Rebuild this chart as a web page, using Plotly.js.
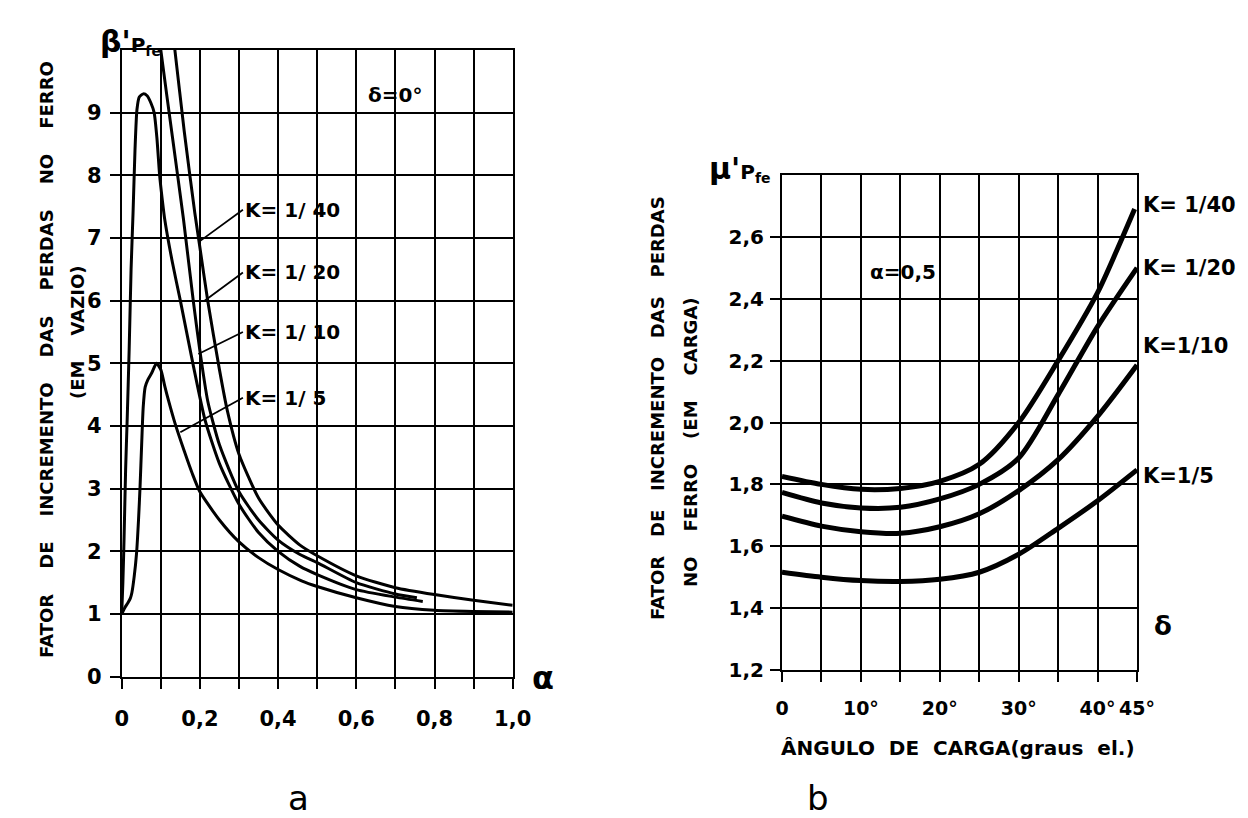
<!DOCTYPE html>
<html><head><meta charset="utf-8">
<script src="https://cdn.plot.ly/plotly-3.0.1.min.js"></script>
<style>html,body{margin:0;padding:0;background:#fff}#c{width:1248px;height:818px}</style>
</head><body><div id="c"></div>
<script>
// ---------- data : panel a (alpha vs beta'Pfe, delta = 0) ----------
const alphaK5  = [0,0.008,0.016,0.022,0.026,0.032,0.038,0.043,0.047,0.051,0.055,0.06,0.067,0.077,0.089,0.1,0.11,0.12,0.136,0.16,0.18,0.2,0.25,0.3,0.35,0.4,0.46,0.5,0.6,0.7,0.8,0.9,1.0];
const betaK5   = [1.0,1.1,1.18,1.25,1.34,1.6,1.97,2.5,3.04,3.7,4.3,4.62,4.74,4.85,5.0,4.9,4.64,4.4,4.05,3.6,3.25,2.95,2.5,2.15,1.9,1.71,1.53,1.44,1.26,1.12,1.06,1.04,1.03];
const alphaK10 = [0,0.003,0.006,0.01,0.014,0.019,0.024,0.029,0.034,0.039,0.045,0.055,0.065,0.075,0.083,0.09,0.097,0.104,0.11,0.13,0.15,0.182,0.213,0.25,0.3,0.35,0.4,0.456,0.5,0.6,0.7,0.77];
const betaK10  = [1.0,1.5,2.2,3.3,4.1,5.2,6.5,7.4,8.4,9.05,9.25,9.3,9.27,9.15,9.0,8.6,8.0,7.6,7.3,6.6,6.0,5.0,4.1,3.4,2.75,2.3,2.0,1.76,1.63,1.39,1.27,1.2];
const alphaK20 = [0.095,0.1,0.13,0.158,0.183,0.2,0.22,0.25,0.3,0.35,0.4,0.456,0.5,0.6,0.7,0.755];
const betaK20  = [10.3,10.0,8.6,7.3,6.0,5.2,4.4,3.7,2.95,2.5,2.18,1.95,1.82,1.5,1.32,1.26];
const alphaK40 = [0.13,0.136,0.16,0.187,0.2,0.22,0.25,0.27,0.3,0.35,0.4,0.456,0.5,0.6,0.7,0.8,0.9,1.0];
const betaK40  = [10.3,10.0,8.7,7.4,6.85,6.0,4.9,4.25,3.55,2.85,2.42,2.1,1.93,1.61,1.42,1.31,1.22,1.14];

// ---------- data : panel b (load angle vs mu'Pfe, alpha = 0,5) ----------
const angle    = [0,5,10,15,20,25,30,35,40,45];
const angleK40 = [0,5,10,15,20,25,30,35,40,42.5,44.7];
const muK40    = [1.826,1.80,1.784,1.787,1.81,1.865,2.0,2.2,2.42,2.56,2.69];
const muK20    = [1.774,1.74,1.724,1.726,1.753,1.80,1.885,2.09,2.31,2.50];
const muK10    = [1.697,1.665,1.647,1.642,1.663,1.705,1.78,1.88,2.02,2.186];
const muK5     = [1.516,1.50,1.489,1.486,1.493,1.516,1.574,1.658,1.747,1.847];

// ---------- tick labels ----------
const xTicksA = [0,0.2,0.4,0.6,0.8,1.0];
const xLabelsA = ['0','0,2','0,4','0,6','0,8','1,0'];
const yTicksA = [0,1,2,3,4,5,6,7,8,9];
const yLabelsA = ['0','1','2','3','4','5','6','7','8','9'];
const xTicksB = [0,10,20,30,40,45];
const xLabelsB = ['0','10°','20°','30°','40°','45°'];
const yTicksB = [1.2,1.4,1.6,1.8,2.0,2.2,2.4,2.6];
const yLabelsB = ['1,2','1,4','1,6','1,8','2,0','2,2','2,4','2,6'];

const W = 1248, H = 818;
const PX = x => x / W, PY = y => 1 - y / H;
const FONT = 'DejaVu Sans';
const bold = (s) => ({family: FONT, size: s, color: '#000', weight: 'bold'});

const lineA = {color: '#000', width: 3, shape: 'spline', smoothing: 0.6};
const lineB = {color: '#000', width: 5, shape: 'spline', smoothing: 0.8};

const traces = [
  {x: alphaK40, y: betaK40, mode: 'lines', line: lineA, xaxis: 'x', yaxis: 'y', name: 'K=1/40'},
  {x: alphaK20, y: betaK20, mode: 'lines', line: lineA, xaxis: 'x', yaxis: 'y', name: 'K=1/20'},
  {x: alphaK10, y: betaK10, mode: 'lines', line: lineA, xaxis: 'x', yaxis: 'y', name: 'K=1/10'},
  {x: alphaK5,  y: betaK5,  mode: 'lines', line: lineA, xaxis: 'x', yaxis: 'y', name: 'K=1/5'},
  {x: angleK40, y: muK40, mode: 'lines', line: lineB, xaxis: 'x2', yaxis: 'y2', name: 'K=1/40'},
  {x: angle,    y: muK20, mode: 'lines', line: lineB, xaxis: 'x2', yaxis: 'y2', name: 'K=1/20'},
  {x: angle,    y: muK10, mode: 'lines', line: lineB, xaxis: 'x2', yaxis: 'y2', name: 'K=1/10'},
  {x: angle,    y: muK5,  mode: 'lines', line: lineB, xaxis: 'x2', yaxis: 'y2', name: 'K=1/5'}
];

const axCommon = {
  showgrid: true, gridcolor: '#000', gridwidth: 2,
  showline: true, linecolor: '#000', linewidth: 2, mirror: true,
  zeroline: false, ticks: 'outside', ticklen: 10, tickwidth: 2, tickcolor: '#000',
  tickmode: 'array', tickangle: 0, fixedrange: true
};
const minorGrid = (d) => ({dtick: d, tick0: 0, showgrid: true, gridcolor: '#000', gridwidth: 2,
  ticks: 'outside', ticklen: 10, tickwidth: 2, tickcolor: '#000'});

const layout = {
  width: W, height: H, margin: {l: 0, r: 0, t: 0, b: 0},
  paper_bgcolor: '#fff', plot_bgcolor: '#fff', showlegend: false,
  xaxis: Object.assign({}, axCommon, {domain: [PX(121.7), PX(512.7)], range: [0, 1.0],
    tickvals: xTicksA, ticktext: xLabelsA, tickfont: bold(21), ticklabelstandoff: 12, anchor: 'y',
    minor: minorGrid(0.1)}),
  yaxis: Object.assign({}, axCommon, {domain: [PY(676.7), PY(50)], range: [0, 10],
    tickvals: yTicksA, ticktext: yLabelsA, tickfont: bold(21), ticklabelstandoff: 4, anchor: 'x'}),
  xaxis2: Object.assign({}, axCommon, {domain: [PX(782), PX(1137)], range: [0, 45],
    tickvals: xTicksB, ticktext: xLabelsB, tickfont: bold(19), ticklabelstandoff: 10, anchor: 'y2',
    minor: minorGrid(5)}),
  yaxis2: Object.assign({}, axCommon, {domain: [PY(670), PY(175)], range: [1.2, 2.8],
    tickvals: yTicksB, ticktext: yLabelsB, tickfont: bold(20), ticklabelstandoff: 2, anchor: 'x2'}),
  annotations: []
};

const A = layout.annotations;
const sp = n => '\u00a0'.repeat(n);
function txt(x, y, text, size, opts) {
  A.push(Object.assign({xref: 'paper', yref: 'paper', x: PX(x), y: PY(y), text: text,
    showarrow: false, font: bold(size), xanchor: 'center', yanchor: 'middle'}, opts || {}));
}
// y-axis titles panel a
txt(46, 360, ['FATOR','DE','INCREMENTO','DAS','PERDAS','NO','FERRO'].join(sp(4)), 18, {textangle: -90});
txt(77, 333, '(EM' + sp(4) + 'VAZIO)', 18, {textangle: -90});
// y-axis titles panel b
txt(657, 408, ['FATOR','DE','INCREMENTO','DAS','PERDAS'].join(sp(3)), 18, {textangle: -90});
txt(690, 442, ['NO','FERRO','(EM','CARGA)'].join(sp(4)), 18, {textangle: -90});
// axis symbols
txt(130, 42, "<span style='font-size:30px'>β'</span>P<sub>fe</sub>", 20);
txt(740, 168, "<span style='font-size:30px'>μ'</span>P<sub>fe</sub>", 20);
txt(543, 678, 'α', 32);
txt(1163, 626, 'δ', 26);
txt(395, 95, 'δ=0°', 20);
txt(903, 272, 'α=0,5', 20);
txt(958, 748, 'ÂNGULO' + sp(2) + 'DE' + sp(2) + 'CARGA(graus' + sp(2) + 'el.)', 20);
txt(298, 798, 'a', 34, {font: {family: FONT, size: 34, color: '#000'}});
txt(818, 798, 'b', 34, {font: {family: FONT, size: 34, color: '#000'}});
// K labels panel b
txt(1141, 205, 'K= 1/40', 21, {xanchor: 'left'});
txt(1141, 268, 'K= 1/20', 21, {xanchor: 'left'});
txt(1141, 346, 'K=1/10', 21, {xanchor: 'left'});
txt(1141, 476, 'K=1/5', 21, {xanchor: 'left'});
// K labels panel a with leader lines
const kLabelsA = [
  {t: 'K= 1/ 40', hx: 0.2,   hy: 6.95, tx: 0.31, ty: 7.45},
  {t: 'K= 1/ 20', hx: 0.212, hy: 6.0,  tx: 0.31, ty: 6.45},
  {t: 'K= 1/ 10', hx: 0.196, hy: 5.15, tx: 0.31, ty: 5.5},
  {t: 'K= 1/ 5',  hx: 0.15,  hy: 3.9,  tx: 0.31, ty: 4.45}
];
kLabelsA.forEach(k => {
  A.push({xref: 'x', yref: 'y', x: k.hx, y: k.hy, axref: 'x', ayref: 'y', ax: k.tx, ay: k.ty,
    text: k.t, showarrow: true, arrowhead: 0, arrowwidth: 1.8, arrowcolor: '#000',
    xanchor: 'left', yanchor: 'middle', font: bold(20), standoff: 0, startstandoff: 0});
});

Plotly.newPlot('c', traces, layout, {staticPlot: true, displayModeBar: false});
</script></body></html>
